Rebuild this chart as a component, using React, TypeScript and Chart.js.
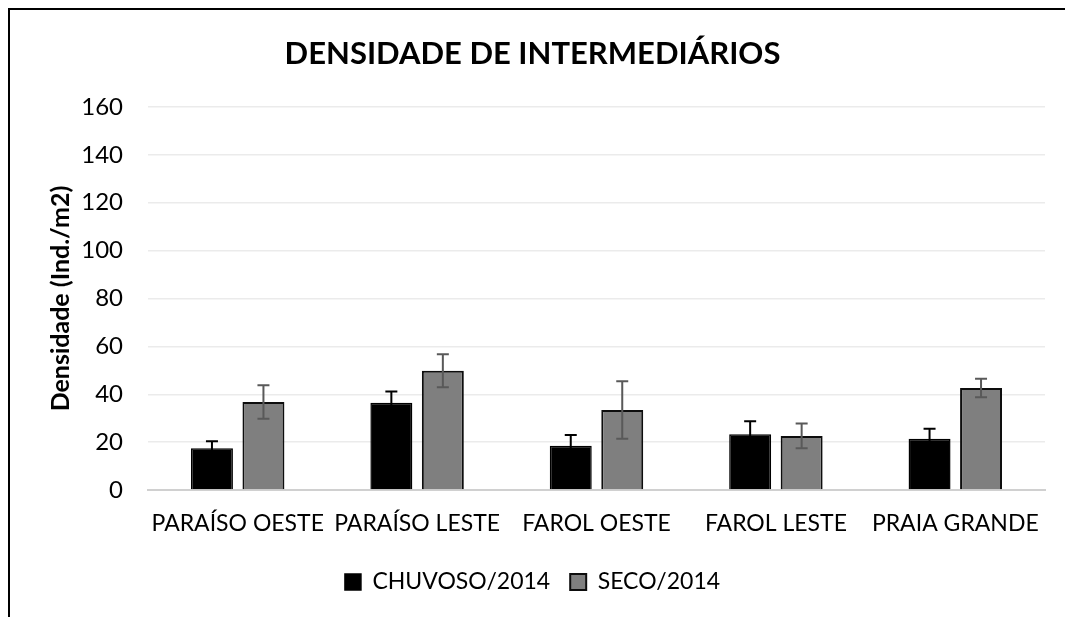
import React, { useEffect, useRef } from "react";
import { Chart, registerables } from "chart.js";

Chart.register(...registerables);

const categories = ["PARAÍSO OESTE", "PARAÍSO LESTE", "FAROL OESTE", "FAROL LESTE", "PRAIA GRANDE"];
const seriesNames = ["CHUVOSO/2014", "SECO/2014"];
const chuvoso = [17.4, 36.5, 18.5, 23.3, 21.4];
const chuvosoErr = [3.0, 4.6, 4.5, 5.4, 4.2];
const seco = [36.8, 49.8, 33.4, 22.6, 42.6];
const secoErr = [7.0, 6.9, 12.0, 5.2, 3.9];
const yMin = 0;
const yMax = 160;
const yStep = 20;

const FONT = "Lato";

const errorBarPlugin = {
  id: "errorBars",
  afterDatasetsDraw(chart: any) {
    const ctx = chart.ctx;
    const yScale = chart.scales.y;
    chart.data.datasets.forEach((ds: any, di: number) => {
      const meta = chart.getDatasetMeta(di);
      const errs: number[] = ds.errors || [];
      ctx.save();
      ctx.strokeStyle = ds.errorColor;
      ctx.lineWidth = 2;
      meta.data.forEach((bar: any, i: number) => {
        const v = ds.data[i];
        const e = errs[i];
        const x = bar.x;
        const yTop = yScale.getPixelForValue(v + e);
        const yBot = yScale.getPixelForValue(v - e);
        const half = 6;
        ctx.beginPath();
        ctx.moveTo(x, yTop);
        ctx.lineTo(x, yBot);
        ctx.moveTo(x - half, yTop);
        ctx.lineTo(x + half, yTop);
        ctx.moveTo(x - half, yBot);
        ctx.lineTo(x + half, yBot);
        ctx.stroke();
      });
      ctx.restore();
    });
  },
};

export default function App() {
  const ref = useRef<HTMLCanvasElement | null>(null);

  useEffect(() => {
    document.body.style.overflow = "hidden";
    const canvas = ref.current;
    if (!canvas) return;
    const chart = new Chart(canvas, {
      type: "bar",
      data: {
        labels: categories,
        datasets: [
          {
            label: seriesNames[0],
            data: chuvoso,
            errors: chuvosoErr,
            errorColor: "#000000",
            backgroundColor: "#000000",
            borderColor: "#000000",
            borderWidth: 1.5,
            categoryPercentage: 0.574,
            barPercentage: 0.815,
          } as any,
          {
            label: seriesNames[1],
            data: seco,
            errors: secoErr,
            errorColor: "#595959",
            backgroundColor: "#7f7f7f",
            borderColor: "#0d0d0d",
            borderWidth: 2,
            categoryPercentage: 0.574,
            barPercentage: 0.815,
          } as any,
        ],
      },
      options: {
        animation: false,
        responsive: false,
        maintainAspectRatio: false,
        layout: { padding: { left: 10, right: 20, top: 0, bottom: 13.5 } },
        plugins: {
          tooltip: { enabled: false },
          title: {
            display: true,
            text: "DENSIDADE DE INTERMEDIÁRIOS",
            color: "#000000",
            font: { family: FONT, size: 31, weight: "bold", lineHeight: 1.2 },
            padding: { top: 25, bottom: 34.8 },
          },
          legend: {
            display: true,
            position: "bottom",
            labels: {
              color: "#000000",
              font: { family: FONT, size: 23 },
              boxWidth: 16,
              boxHeight: 16,
              padding: 20,
            },
          },
        },
        scales: {
          x: {
            grid: { display: false },
            border: { display: true, color: "#d0d0d0", width: 2 },
            ticks: {
              color: "#000000",
              font: { family: FONT, size: 23 },
              padding: 12,
              maxRotation: 0,
              autoSkip: false,
            },
            afterFit(scale: any) {
              scale.height = 60.5;
            },
          },
          y: {
            min: yMin,
            max: yMax,
            grid: { color: "#ebebeb", lineWidth: 1.5, drawTicks: false },
            border: { display: false },
            ticks: {
              stepSize: yStep,
              color: "#000000",
              font: { family: FONT, size: 24 },
              padding: 25,
            },
            title: {
              display: true,
              text: "Densidade (Ind./m2)",
              color: "#000000",
              font: { family: FONT, size: 25, weight: "bold", lineHeight: 1.2 },
              padding: { top: 26, bottom: 0 },
            },
            afterFit(scale: any) {
              scale.width = 128;
            },
          },
        },
      } as any,
      plugins: [errorBarPlugin],
    });
    if ((document as any).fonts && (document as any).fonts.ready) {
      (document as any).fonts.ready.then(() => chart.update());
    }
    return () => chart.destroy();
  }, []);

  return (
    <div
      style={{
        position: "absolute",
        left: 8,
        top: 8,
        width: 1057,
        height: 609,
        borderLeft: "2px solid #000",
        borderTop: "2px solid #000",
        boxSizing: "border-box",
        overflow: "hidden",
        background: "#fff",
      }}
    >
      <canvas ref={ref} width={1055} height={607} style={{ display: "block" }} />
    </div>
  );
}
